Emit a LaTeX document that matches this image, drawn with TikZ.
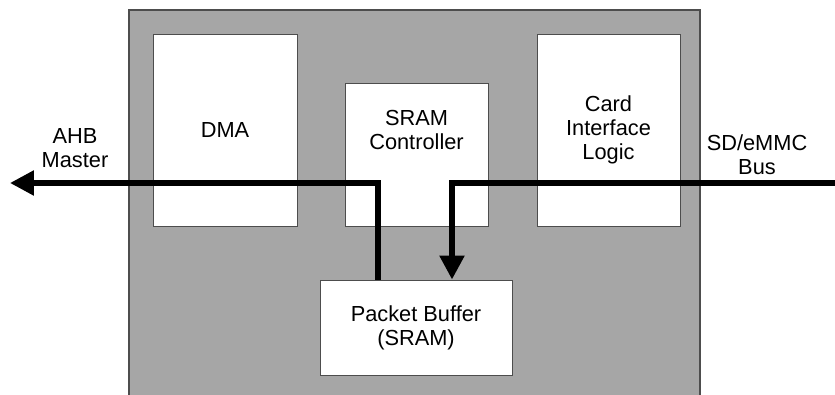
\documentclass[tikz,border=0pt]{standalone}
\usepackage{fontspec}
\setmainfont{Liberation Sans}
\usetikzlibrary{arrows.meta}
\definecolor{panelgray}{HTML}{A6A6A6}
\definecolor{edgegray}{HTML}{4D4D4D}
\begin{document}
\begin{tikzpicture}[font=\fontsize{15.5}{17}\selectfont,
  every node/.style={align=center, inner sep=0pt},
  blockbox/.style={draw=edgegray, line width=0.7pt, fill=white},
  bus/.style={line width=3.9pt, -{Triangle[length=17pt,width=17pt]}}]
\useasboundingbox (0,0) rectangle (20.875,9.875);
\fill[panelgray, draw=edgegray, line width=0.8pt] (3.225,-0.5) rectangle (17.5,9.625);
\node[blockbox, minimum width=3.6cm, minimum height=4.8cm] (dma) at (5.625,6.625) {DMA};
\node[blockbox, minimum width=3.575cm, minimum height=3.575cm] (ctrl) at (10.4125,6.0125) {};
\node (ctrltxt) at (10.4125,6.63) {SRAM\\Controller};
\node[blockbox, minimum width=3.575cm, minimum height=4.8cm] (card) at (15.2125,6.625) {Card\\Interface\\Logic};
\node[blockbox, minimum width=4.8cm, minimum height=2.375cm] (buf) at (10.4,1.6875) {Packet Buffer\\(SRAM)};
\coordinate (ahb) at (0.25,5.3);
\coordinate (sd) at (20.875,5.3);
\node (ahbtxt) at (1.875,6.17) {AHB\\Master};
\node (sdtxt) at (18.925,6.0) {SD/eMMC\\Bus};
\draw[bus] ([xshift=-0.95cm]buf.north) |- (ahb);
\draw[bus] (sd) -| ([xshift=0.9cm]buf.north);
\end{tikzpicture}
\end{document}
